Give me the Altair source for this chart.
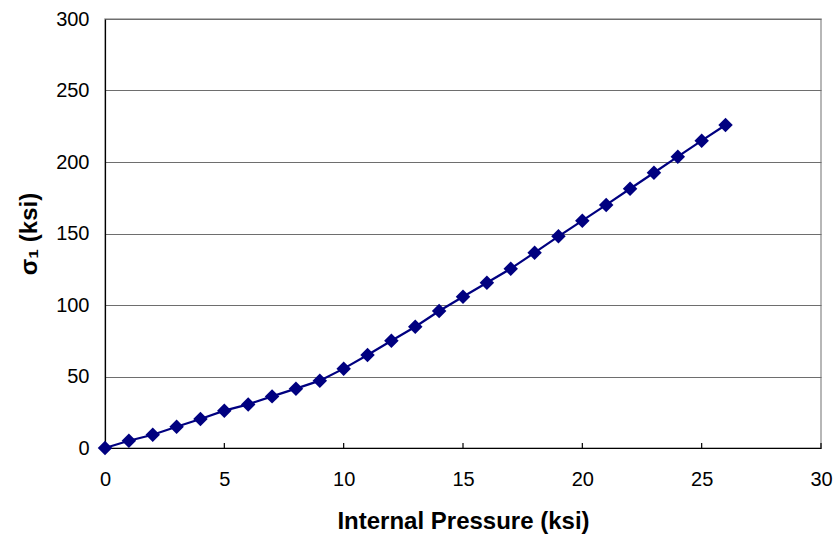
import altair as alt
import pandas as pd

pressure = list(range(0, 27))
sigma1 = [0, 5.1, 9.3, 14.9, 20.3, 26.1, 30.5, 36.1, 41.5, 47.1, 55.5,
          65.0, 75.0, 84.8, 95.8, 105.8, 115.6, 125.4, 136.6, 148.0, 159.0,
          170.0, 181.3, 192.5, 203.7, 214.9, 225.9]
x_ticks = [0, 5, 10, 15, 20, 25, 30]
y_ticks = [0, 50, 100, 150, 200, 250, 300]

df = pd.DataFrame({"p": pressure, "s": sigma1})
ticks_df = pd.DataFrame({"t": x_ticks})

FONT = "Liberation Sans"
NAVY = "#000080"

x_scale = alt.Scale(domain=[0, 30], nice=False)
y_scale = alt.Scale(domain=[0, 300], nice=False)

x_axis = alt.Axis(values=x_ticks, title="Internal Pressure (ksi)", grid=False,
                  ticks=False, domainColor="#000000", domainWidth=1.2,
                  labelFlush=False,
                  labelFont=FONT, labelFontSize=20, labelColor="#000000",
                  labelPadding=21, titleFont=FONT, titleFontSize=24,
                  titleFontWeight="bold", titleColor="#000000", titlePadding=20)
y_axis = alt.Axis(values=y_ticks, title="σ₁ (ksi)", grid=True,
                  gridColor="#6e6e6e", gridWidth=1.2, ticks=False,
                  domainColor="#000000", domainWidth=1.2,
                  labelFont=FONT, labelFontSize=20, labelColor="#000000",
                  labelPadding=16, titleFont=FONT, titleFontSize=24,
                  titleFontWeight="bold", titleColor="#000000", titlePadding=14)

line = alt.Chart(df).mark_line(color=NAVY, strokeWidth=2.2).encode(
    x=alt.X("p:Q", scale=x_scale, axis=x_axis),
    y=alt.Y("s:Q", scale=y_scale, axis=y_axis),
)
pts = alt.Chart(df).mark_point(shape="diamond", filled=True, color=NAVY,
                               size=210, opacity=1).encode(
    x=alt.X("p:Q", scale=x_scale),
    y=alt.Y("s:Q", scale=y_scale),
)
inner_ticks = alt.Chart(ticks_df).mark_rule(color="#000000", strokeWidth=1.2).encode(
    x=alt.X("t:Q", scale=x_scale),
    y=alt.value(429),
    y2=alt.value(424),
)

chart = alt.layer(inner_ticks, line, pts).properties(
    width=716, height=429,
    autosize=alt.AutoSizeParams(type="none"),
    padding={"left": 105, "top": 19, "right": 17, "bottom": 94},
    background="#ffffff",
).configure_view(stroke="#a0a0a0", strokeWidth=1.5)

chart.save("out.html", embed_options={"renderer": "svg", "actions": False})
